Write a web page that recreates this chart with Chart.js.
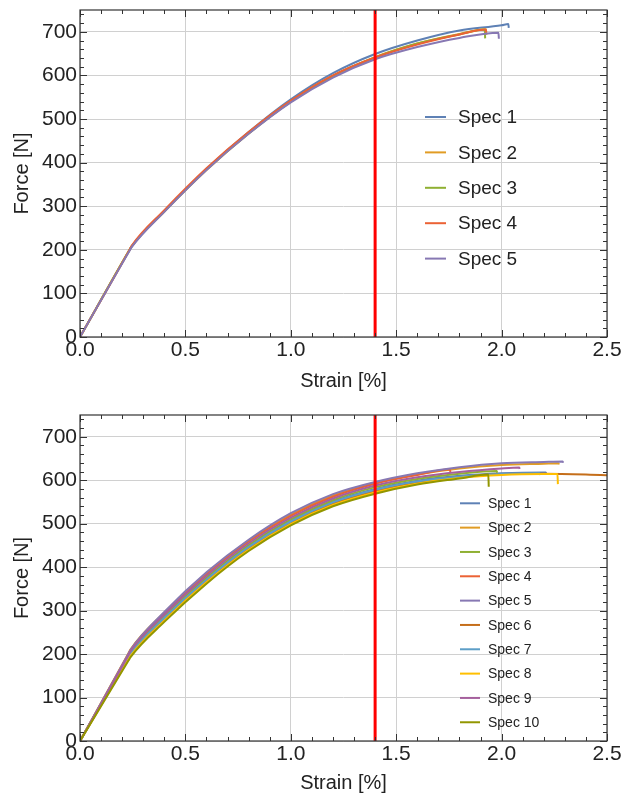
<!DOCTYPE html>
<html>
<head>
<meta charset="utf-8">
<script src="https://cdn.jsdelivr.net/npm/chart.js@4"></script>
<style>
  body { margin: 0; background: #fff; }
  canvas { display: block; }
</style>
</head>
<body>
<canvas id="chartTop" width="631" height="400"></canvas>
<canvas id="chartBottom" width="631" height="401"></canvas>
<script>
// series names / colours (Mathematica default palette)
var specLabels = ['Spec 1', 'Spec 2', 'Spec 3', 'Spec 4', 'Spec 5',
  'Spec 6', 'Spec 7', 'Spec 8', 'Spec 9', 'Spec 10'];
var specColors = ['#5e81b5', '#e19c24', '#8fb032', '#eb6235', '#8778b3',
  '#c56e1a', '#5d9ec7', '#ffbf00', '#a5609d', '#929600'];

var xTicks = [0, 0.5, 1.0, 1.5, 2.0, 2.5];
var yTicks = [0, 100, 200, 300, 400, 500, 600, 700];
var limitStrain = 1.4;

// top chart: 5 specimens
var topStrain = [0, 0.235, 0.245, 0.4, 0.6, 0.8, 1.0, 1.2, 1.4, 1.6, 1.8, 2.0];
var topForce = [
  [0, 199, 207, 288, 385, 470, 545, 605, 649, 680, 703, 715],
  [0, 200, 208, 288, 383, 467, 540, 599, 642, 673, 695, null],
  [0, 200, 208, 288, 384, 467, 540, 599, 641, 673, 694, null],
  [0, 200, 209, 291, 387, 470, 542, 600, 641, 671, 694, null],
  [0, 198, 206, 287, 383, 466, 538, 595, 637, 665, 686, null]
];
var topEndStrain = [2.032, 1.926, 1.92, 1.925, 1.985];
var topEndForce = [718, 706, 705, 705, 698];
var topDropForce = [709, 693, 685, 698, 684];

// bottom chart: 10 specimens
var botStrain = [0, 0.23, 0.24, 0.4, 0.6, 0.8, 1.0, 1.2, 1.4, 1.6, 1.8, 2.0, 2.2, 2.4, 2.6];
var botForce = [
  [0, 195, 203, 285, 373, 448, 507, 551, 580, 599, 610, 616, 618, null, null],
  [0, 202, 211, 296, 386, 461, 521, 565, 594, 613, 627, 635, 638, null, null],
  [0, 196, 205, 288, 376, 451, 510, 554, 584, 603, 615, null, null, null, null],
  [0, 200, 209, 294, 384, 459, 518, 562, 592, 612, null, null, null, null, null],
  [0, 201, 210, 297, 388, 463, 524, 568, 596, 616, 630, 639, 642, null, null],
  [0, 191, 199, 281, 369, 443, 502, 546, 575, 595, 607, 614, 615, 613, 609],
  [0, 193, 201, 283, 371, 446, 505, 549, 578, 597, 608, 614, null, null, null],
  [0, 188, 196, 277, 365, 440, 499, 543, 572, 592, 605, 612, 614, null, null],
  [0, 198, 207, 291, 380, 455, 514, 558, 588, 607, 619, 627, null, null, null],
  [0, 185, 193, 274, 362, 437, 496, 540, 569, 590, 604, null, null, null, null]
];
var botEndStrain = [2.21, 2.27, 1.977, 1.755, 2.29, null, 2.18, 2.265, 2.084, 1.937];
var botEndForce = [618, 639, 621, 625, 643, null, 616, 614, 629, 613];
var botDropForce = [614, 636, 617, 618, 640, null, 612, 591, 626, 585];

Chart.defaults.font.family = '"Liberation Sans", Arial, sans-serif';
Chart.defaults.color = '#222';

function buildPoints(grid, forces, endS, endF, dropF) {
  var pts = [];
  grid.forEach(function (s, i) {
    if (forces[i] !== null && (endS === null || s < endS)) {
      pts.push({x: s, y: forces[i]});
    }
  });
  if (endS !== null) {
    pts.push({x: endS, y: endF});
    pts.push({x: endS + 0.002, y: dropF});
  }
  return pts;
}

// frame with inward major/minor ticks on all four sides
var frameTicks = {
  id: 'frameTicks',
  afterDatasetsDraw: function (chart) {
    var ctx = chart.ctx, a = chart.chartArea;
    var xs = chart.scales.x, ys = chart.scales.y;
    ctx.save();
    ctx.strokeStyle = '#333';
    ctx.lineWidth = 1;
    ctx.beginPath();
    for (var k = 0; k <= 25; k++) {
      var px = Math.round(xs.getPixelForValue(k / 10)) + 0.5;
      var len = k % 5 === 0 ? 7 : 4;
      ctx.moveTo(px, a.bottom); ctx.lineTo(px, a.bottom - len);
      ctx.moveTo(px, a.top); ctx.lineTo(px, a.top + len);
    }
    for (var j = 0; j <= 37; j++) {
      var py = Math.round(ys.getPixelForValue(j * 20)) + 0.5;
      var ylen = j % 5 === 0 ? 7 : 4;
      ctx.moveTo(a.left, py); ctx.lineTo(a.left + ylen, py);
      ctx.moveTo(a.right, py); ctx.lineTo(a.right - ylen, py);
    }
    ctx.stroke();
    ctx.lineWidth = 1.2;
    ctx.strokeRect(a.left, a.top, a.right - a.left, a.bottom - a.top);
    ctx.restore();
  }
};

var specLegend = {
  id: 'specLegend',
  afterDraw: function (chart, args, opts) {
    var ctx = chart.ctx;
    ctx.save();
    ctx.font = opts.size + 'px "Liberation Sans", Arial, sans-serif';
    ctx.textBaseline = 'middle';
    ctx.fillStyle = '#222';
    chart.data.datasets.forEach(function (ds, i) {
      if (ds.isLimit) return;
      var y = opts.y0 + i * opts.dy;
      ctx.strokeStyle = ds.borderColor;
      ctx.lineWidth = 2;
      ctx.beginPath();
      ctx.moveTo(opts.x0, y); ctx.lineTo(opts.x1, y);
      ctx.stroke();
      ctx.fillText(ds.label, opts.tx, y + 1);
    });
    ctx.restore();
  }
};

function makeChart(id, grid, forces, endS, endF, dropF, cfg) {
  var datasets = forces.map(function (f, i) {
    return {
      label: specLabels[i],
      data: buildPoints(grid, f, endS[i], endF[i], dropF[i]),
      borderColor: specColors[i],
      borderWidth: 2,
      pointRadius: 0,
      cubicInterpolationMode: 'monotone',
      order: forces.length - i
    };
  });
  datasets.push({
    label: 'limit',
    isLimit: true,
    data: [{x: limitStrain, y: 0}, {x: limitStrain, y: 750}],
    borderColor: '#ff0000',
    borderWidth: 3,
    pointRadius: 0,
    order: -1
  });

  return new Chart(document.getElementById(id), {
    type: 'line',
    data: {datasets: datasets},
    plugins: [frameTicks, specLegend],
    options: {
      responsive: false,
      animation: false,
      layout: {padding: {top: cfg.top, right: 24, left: 0, bottom: 0}},
      plugins: {
        legend: {display: false},
        tooltip: {enabled: false},
        specLegend: cfg.legend
      },
      scales: {
        x: {
          type: 'linear', min: 0, max: 2.5,
          afterFit: function (s) { s.height = cfg.xHeight; },
          afterBuildTicks: function (s) { s.ticks = xTicks.map(function (v) { return {value: v}; }); },
          ticks: {
            font: {size: 21}, padding: 1, maxRotation: 0, autoSkip: false,
            callback: function (v) { return v.toFixed(1); }
          },
          grid: {color: '#d0d0d0', drawTicks: false},
          border: {display: false},
          title: {display: true, text: 'Strain [%]', font: {size: 20}, padding: {top: 0, bottom: cfg.titlePad}}
        },
        y: {
          type: 'linear', min: 0, max: 750,
          afterFit: function (s) { s.width = 80; s.paddingTop = 0; s.paddingBottom = 0; },
          afterBuildTicks: function (s) { s.ticks = yTicks.map(function (v) { return {value: v}; }); },
          ticks: {font: {size: 21}, padding: 3, autoSkip: false},
          grid: {color: '#d0d0d0', drawTicks: false},
          border: {display: false},
          title: {display: true, text: 'Force [N]', font: {size: 20}, padding: {top: 10, bottom: 0}}
        }
      }
    }
  });
}

makeChart('chartTop', topStrain, topForce, topEndStrain, topEndForce, topDropForce, {
  top: 10, xHeight: 63, titlePad: 7,
  legend: {x0: 425, x1: 446, tx: 458, y0: 117, dy: 35.4, size: 19}
});

makeChart('chartBottom', botStrain, botForce, botEndStrain, botEndForce, botDropForce, {
  top: 15, xHeight: 60, titlePad: 6,
  legend: {x0: 460, x1: 480, tx: 488, y0: 103.3, dy: 24.33, size: 14}
});
</script>
</body>
</html>
